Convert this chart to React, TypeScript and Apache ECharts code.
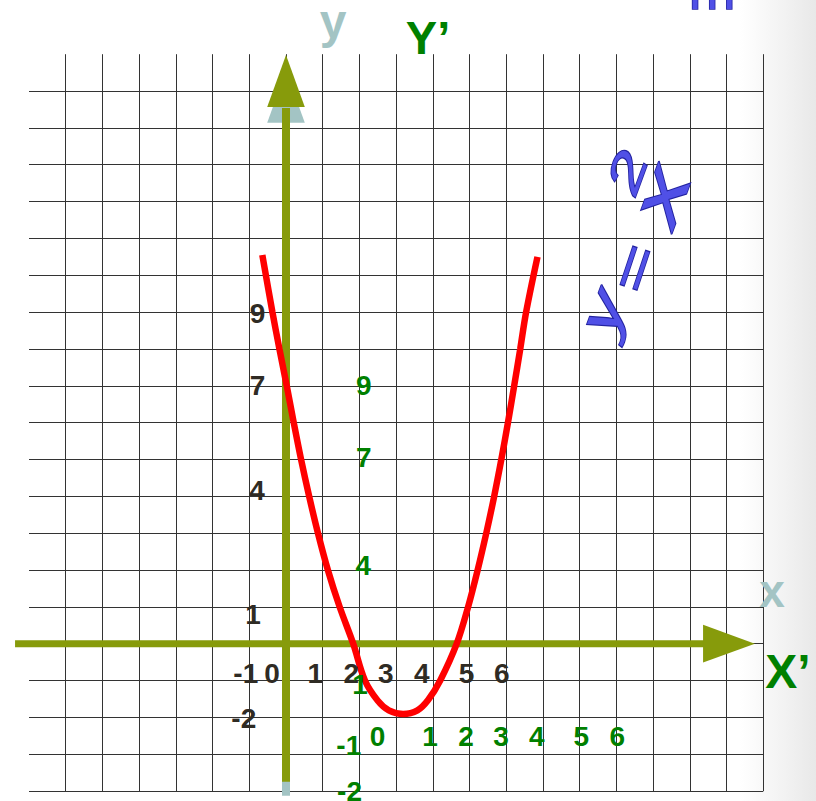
import React, { useEffect, useRef } from 'react';
import * as echarts from 'echarts';

// ---- data (in chart units) ----
const X_MIN = -7;
const X_MAX = 13;
const Y_MIN = -4;
const Y_MAX = 16;

// red curve
const curveX = [-0.645, -0.37, -0.18, 0.02, 0.21, 0.41, 0.63, 0.87, 1.14, 1.46, 1.83, 2.15, 2.5, 2.8, 3.19, 3.58, 3.87, 4.2, 4.65, 4.96, 5.22, 5.455, 5.67, 5.865, 6.045, 6.215, 6.38, 6.54, 6.85];
const curveY = [10.55, 9.0, 8.0, 7.0, 6.0, 5.0, 4.0, 3.0, 2.0, 1.0, 0.0, -1.0, -1.55, -1.81, -1.91, -1.81, -1.53, -1.0, 0.0, 1.0, 2.0, 3.0, 4.0, 5.0, 6.0, 7.0, 8.0, 9.0, 10.5];

// black tick labels (original axes)
const blackTickText = ['9', '7', '4', '1', '-2', '-1', '0', '1', '2', '3', '4', '5', '6'];
const blackTickX = [-0.776, -0.776, -0.79, -0.9, -1.15, -1.095, -0.38, 0.8, 1.78, 2.72, 3.7, 4.92, 5.88];
const blackTickY = [8.97, 7.006, 4.17, 0.8, -2.02, -0.81, -0.81, -0.81, -0.81, -0.81, -0.81, -0.81, -0.81];

// green tick labels (shifted axes)
const greenTickText = ['9', '7', '4', '1', '-1', '-2', '0', '1', '2', '3', '4', '5', '6'];
const greenTickX = [2.12, 2.12, 2.105, 2.015, 1.71, 1.73, 2.49, 3.92, 4.9, 5.86, 6.83, 8.04, 9.02];
const greenTickY = [7.006, 5.04, 2.11, -1.11, -2.77, -4.0, -2.53, -2.53, -2.53, -2.53, -2.53, -2.53, -2.53];

// axis arrows (chart units)
const xAxisStart = -7.38;
const xAxisBase = 11.36;
const xAxisTip = 12.77;
const yAxisStart = -3.75;
const yAxisBase = 14.57;
const yAxisTip = 15.98;
const yShadowStart = -4.13;
const yShadowBase = 14.14;
const yShadowTip = 15.55;

const OLIVE = '#879b0b';
const TEAL = '#a3c4c4';
const BLACK_TXT = '#2f2b24';
const GREEN_TXT = '#008000';
const BLUE = '#5050e6';

export default function App() {
  const ref = useRef<HTMLDivElement>(null);

  useEffect(() => {
    const chart = echarts.init(ref.current as HTMLDivElement, null, { renderer: 'svg' });

    const glow = {
      fill: BLUE,
      stroke: '#2323a0',
      lineWidth: 1.6,
      shadowBlur: 12,
      shadowColor: 'rgba(100,100,255,0.75)',
      align: 'center',
      verticalAlign: 'middle',
      textAlign: 'center',
      textVerticalAlign: 'middle',
    };
    const FORMULA_FONT = '"Liberation Sans", Arial, sans-serif';

    const labelSeries = (texts: string[], xs: number[], ys: number[], color: string) => ({
      type: 'custom',
      silent: true,
      z: 6,
      data: texts.map((t, i) => [xs[i], ys[i], i]),
      renderItem: (params: any, api: any) => {
        const i = api.value(2);
        const p = api.coord([api.value(0), api.value(1)]);
        return {
          type: 'text',
          x: p[0],
          y: p[1],
          style: {
            text: texts[i],
            fill: color,
            font: 'bold 28px "Liberation Sans", Arial, sans-serif',
            align: 'center',
            verticalAlign: 'middle',
            textAlign: 'center',
            textVerticalAlign: 'middle',
          },
        };
      },
    });

    const option: any = {
      animation: false,
      grid: {
        left: 29,
        top: 54.2,
        right: 52.7,
        bottom: 10,
        containLabel: false,
        outerBoundsMode: 'none',
      },
      xAxis: {
        type: 'value',
        min: X_MIN,
        max: X_MAX,
        interval: 1,
        axisLine: { show: false },
        axisTick: { show: false },
        axisLabel: { show: false },
        splitLine: { show: true, showMinLine: false, showMaxLine: true, lineStyle: { color: '#333', width: 1 } },
      },
      yAxis: {
        type: 'value',
        min: Y_MIN,
        max: Y_MAX,
        interval: 1,
        axisLine: { show: false },
        axisTick: { show: false },
        axisLabel: { show: false },
        splitLine: { show: true, showMinLine: true, showMaxLine: false, lineStyle: { color: '#333', width: 1 } },
      },
      graphic: [
        {
          type: 'rect',
          z: -10,
          shape: { x: 740, y: 0, width: 76, height: 801 },
          style: {
            fill: new echarts.graphic.LinearGradient(0, 0, 1, 0, [
              { offset: 0, color: 'rgba(234,234,234,0)' },
              { offset: 1, color: '#e8e8e8' },
            ]),
          },
        },
        {
          type: 'text', x: 333, y: 21, z: 10,
          style: { text: 'y', fill: TEAL, font: 'bold 48px "Liberation Sans", Arial, sans-serif', align: 'center', verticalAlign: 'middle', textAlign: 'center', textVerticalAlign: 'middle' },
        },
        {
          type: 'text', x: 428, y: 37, z: 10,
          style: { text: 'Y\u2019', fill: GREEN_TXT, font: 'bold 47px "Liberation Sans", Arial, sans-serif', align: 'center', verticalAlign: 'middle', textAlign: 'center', textVerticalAlign: 'middle' },
        },
        {
          type: 'text', x: 772, y: 591, z: 10,
          style: { text: 'x', fill: TEAL, font: 'bold 46px "Liberation Sans", Arial, sans-serif', align: 'center', verticalAlign: 'middle', textAlign: 'center', textVerticalAlign: 'middle' },
        },
        {
          type: 'text', x: 788, y: 671, z: 10,
          style: { text: 'X\u2019', fill: GREEN_TXT, font: 'bold 48px "Liberation Sans", Arial, sans-serif', align: 'center', verticalAlign: 'middle', textAlign: 'center', textVerticalAlign: 'middle' },
        },
        {
          type: 'text', x: 712, y: -11, z: 10,
          style: { ...glow, text: 'm', font: '56px "Liberation Sans", Arial, sans-serif' },
        },
        {
          type: 'text', x: 602, y: 312, z: 10, rotation: 1.22, scaleX: 1.5,
          style: { ...glow, text: 'y', font: 'italic 56px ' + FORMULA_FONT },
        },
        {
          type: 'text', x: 634, y: 269, z: 10, rotation: 1.25, scaleX: 1.5,
          style: { ...glow, text: '=', font: 'italic 54px ' + FORMULA_FONT },
        },
        {
          type: 'text', x: 660, y: 195, z: 10, rotation: 1.22, scaleX: 1.6,
          style: { ...glow, text: 'x', font: 'italic 70px ' + FORMULA_FONT },
        },
        {
          type: 'text', x: 627, y: 172, z: 10, rotation: 1.22, scaleX: 1.55,
          style: { ...glow, text: '2', font: 'italic 47px ' + FORMULA_FONT },
        },
      ],
      series: [
        {
          type: 'custom',
          silent: true,
          z: 3,
          data: [[0, 0]],
          renderItem: (params: any, api: any) => {
            const c = (x: number, y: number) => api.coord([x, y]);
            const ts = c(0, yShadowStart), tb = c(0, yShadowBase), tt = c(0, yShadowTip);
            const ys = c(0, yAxisStart), yb = c(0, yAxisBase), yt = c(0, yAxisTip);
            const xs = c(xAxisStart, 0), xb = c(xAxisBase, 0), xt = c(xAxisTip, 0);
            const hw = 18.8;
            return {
              type: 'group',
              children: [
                { type: 'line', shape: { x1: ts[0], y1: ts[1], x2: tb[0], y2: tb[1] + 1 }, style: { stroke: TEAL, lineWidth: 8 } },
                { type: 'polygon', shape: { points: [[tb[0] - hw, tb[1]], [tb[0] + hw, tb[1]], [tt[0], tt[1]]] }, style: { fill: TEAL } },
                { type: 'line', shape: { x1: xs[0], y1: xs[1], x2: xb[0] + 1, y2: xb[1] }, style: { stroke: OLIVE, lineWidth: 7 } },
                { type: 'polygon', shape: { points: [[xb[0], xb[1] - hw], [xb[0], xb[1] + hw], [xt[0], xt[1]]] }, style: { fill: OLIVE } },
                { type: 'line', shape: { x1: ys[0], y1: ys[1], x2: yb[0], y2: yb[1] + 1 }, style: { stroke: OLIVE, lineWidth: 8 } },
                { type: 'polygon', shape: { points: [[yb[0] - hw, yb[1]], [yb[0] + hw, yb[1]], [yt[0], yt[1]]] }, style: { fill: OLIVE } },
              ],
            };
          },
        },
        {
          type: 'line',
          z: 4,
          data: curveX.map((x, i) => [x, curveY[i]]),
          smooth: 0.35,
          symbol: 'none',
          lineStyle: { color: '#ff0000', width: 6.5, cap: 'butt' },
          silent: true,
        },
        labelSeries(blackTickText, blackTickX, blackTickY, BLACK_TXT),
        labelSeries(greenTickText, greenTickX, greenTickY, GREEN_TXT),
      ],
    };

    chart.setOption(option);
    return () => {
      chart.dispose();
    };
  }, []);

  return (
    <div
      ref={ref}
      style={{ position: 'fixed', left: 0, top: 0, width: 816, height: 801, background: '#ffffff' }}
    />
  );
}
